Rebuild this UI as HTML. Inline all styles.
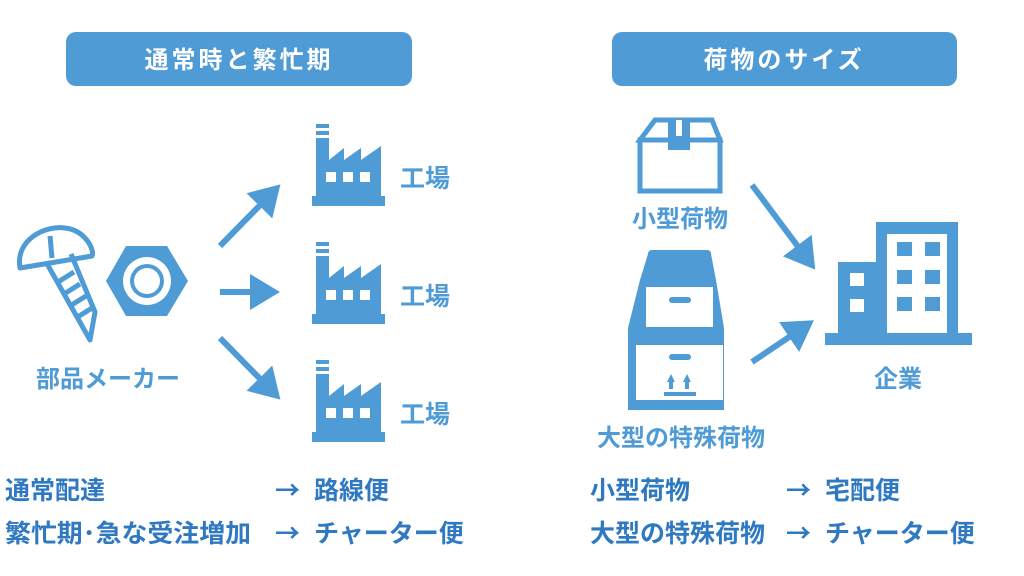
<!DOCTYPE html>
<html><head><meta charset="utf-8"><style>
html,body{margin:0;padding:0;background:#fff;}
svg{display:block;}
text{font-family:"Liberation Sans","Noto Sans CJK JP",sans-serif;font-weight:bold;}
.ar{font-family:"Noto Sans CJK JP",sans-serif;}
</style></head><body>
<svg width="1024" height="576" viewBox="0 0 1024 576" xmlns="http://www.w3.org/2000/svg">
<defs>
<g id="fac">
<rect x="316" y="124" width="13" height="4" fill="#4f9bd5"/>
<rect x="316" y="131" width="13" height="4" fill="#4f9bd5"/>
<path d="M316 138 H329 V160 L344 148 V160 L361 148 V160 L381 146 V196 H316 Z" fill="#4f9bd5"/>
<rect x="312" y="196" width="73" height="10" fill="#4f9bd5"/>
<rect x="326" y="172" width="10" height="10" fill="#fff"/>
<rect x="343" y="172" width="10" height="10" fill="#fff"/>
<rect x="360" y="172" width="10" height="10" fill="#fff"/>
</g>
<marker id="ah" markerWidth="6" markerHeight="6" refX="3" refY="3" orient="auto" markerUnits="strokeWidth"><path d="M0,0 L5,3 L0,6 Z" fill="#4f9bd5"/></marker>
</defs>
<rect x="66" y="32" width="346" height="54" rx="10" fill="#4f9bd5"/>
<text x="239" y="68" font-size="24" fill="#fff" text-anchor="middle" letter-spacing="3">通常時と繁忙期</text>
<rect x="612" y="32" width="345" height="54" rx="10" fill="#4f9bd5"/>
<text x="784" y="68" font-size="24" fill="#fff" text-anchor="middle" letter-spacing="3">荷物のサイズ</text>

<use href="#fac"/>
<use href="#fac" transform="translate(0,118)"/>
<use href="#fac" transform="translate(0,236)"/>
<g fill="#4f9bd5" font-size="25">
<text x="400" y="187">工場</text>
<text x="400" y="305">工場</text>
<text x="400" y="423">工場</text>
</g>
<g stroke="#4f9bd5" stroke-width="6" fill="none" marker-end="url(#ah)">
<line x1="220" y1="246" x2="272" y2="193"/>
<line x1="220" y1="292" x2="268" y2="292"/>
<line x1="220" y1="338" x2="272" y2="391"/>
</g>

<!-- screw -->
<g stroke="#4f9bd5" stroke-width="5" fill="none" stroke-linejoin="round">
<path d="M20 268 C15 240 45 225 65 228 C85 230 95 250 92 256 Z"/>
<path d="M46 262 L90 340 L95 312 L71 254"/>
<line x1="52" y1="258" x2="50" y2="236"/>
<line x1="58" y1="282" x2="74" y2="272"/>
<line x1="64" y1="294" x2="80" y2="284"/>
<line x1="70" y1="306" x2="86" y2="296"/>
<line x1="76" y1="318" x2="92" y2="308"/>
</g>
<polygon points="106,281 126,246 167,246 188,281 167,316 126,316" fill="#4f9bd5"/>
<circle cx="147" cy="281" r="24" fill="#fff"/>
<circle cx="147" cy="281" r="17" fill="#4f9bd5"/>
<circle cx="147" cy="281" r="13" fill="#fff"/>
<text x="108" y="387" font-size="24" fill="#4f9bd5" text-anchor="middle">部品メーカー</text>

<!-- small box -->
<g fill="none" stroke="#4f9bd5" stroke-width="5">
<path d="M640 140 L655 120 H712 L720 140 Z"/>
<rect x="640" y="140" width="80" height="51"/>
</g>
<rect x="668" y="120" width="22" height="30" fill="#4f9bd5"/>
<rect x="676" y="120" width="6" height="16" fill="#fff"/>
<text x="680" y="227" font-size="24" fill="#4f9bd5" text-anchor="middle">小型荷物</text>

<!-- big box -->
<path d="M648 254 Q648 250 652 250 H707 Q711 250 711 254 L716 280 L724 328 V410 H628 V328 L640 280 Z" fill="#4f9bd5"/>
<rect x="646" y="287" width="67" height="40" fill="#fff"/>
<rect x="636" y="345" width="87" height="55" fill="#fff"/>
<rect x="669" y="297" width="22" height="6" rx="3" fill="#4f9bd5"/>
<rect x="669" y="354" width="22" height="6" rx="3" fill="#4f9bd5"/>
<path d="M667 382 L671 374 L675 382 Z M683 382 L687 374 L691 382 Z" fill="#4f9bd5"/>
<rect x="669" y="380" width="4" height="9" fill="#4f9bd5"/>
<rect x="685" y="380" width="4" height="9" fill="#4f9bd5"/>
<rect x="664" y="392" width="32" height="4" fill="#4f9bd5"/>
<text x="681" y="446" font-size="24" fill="#4f9bd5" text-anchor="middle">大型の特殊荷物</text>

<!-- building -->
<rect x="876" y="222" width="82" height="115" fill="#4f9bd5"/>
<rect x="887" y="234" width="60" height="103" fill="#fff"/>
<rect x="838" y="262" width="42" height="75" fill="#4f9bd5"/>
<rect x="825" y="333" width="147" height="12" fill="#4f9bd5"/>
<rect x="850" y="273" width="14" height="13" fill="#fff"/>
<rect x="850" y="299" width="14" height="13" fill="#fff"/>
<g fill="#4f9bd5">
<rect x="897" y="242" width="15" height="14"/><rect x="925" y="242" width="15" height="14"/>
<rect x="897" y="270" width="15" height="14"/><rect x="925" y="270" width="15" height="14"/>
<rect x="897" y="297" width="15" height="14"/><rect x="925" y="297" width="15" height="14"/>
</g>
<text x="898" y="387" font-size="24" fill="#4f9bd5" text-anchor="middle">企業</text>
<g stroke="#4f9bd5" stroke-width="6" fill="none" marker-end="url(#ah)">
<line x1="752" y1="185" x2="808" y2="260"/>
<line x1="752" y1="362" x2="804" y2="327"/>
</g>

<g fill="#2f78c2" font-size="25">
<text x="5" y="499">通常配達</text>
<text class="ar" x="275" y="499">→</text><text x="314" y="499">路線便</text>
<text x="5" y="542" textLength="246" lengthAdjust="spacingAndGlyphs">繁忙期･急な受注増加</text>
<text class="ar" x="275" y="542">→</text><text x="314" y="542">チャーター便</text>
<text x="590" y="499">小型荷物</text>
<text class="ar" x="786" y="499">→</text><text x="825" y="499">宅配便</text>
<text x="590" y="542">大型の特殊荷物</text>
<text class="ar" x="786" y="542">→</text><text x="825" y="542">チャーター便</text>
</g>
</svg>
</body></html>
